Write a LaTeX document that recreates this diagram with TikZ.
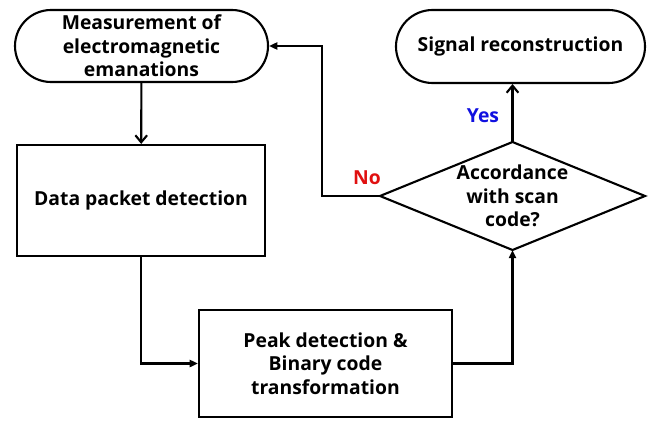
\documentclass[tikz,border=0pt]{standalone}
\usepackage{fontspec}
\setmainfont{Open Sans}
\usetikzlibrary{positioning, arrows.meta, shapes.misc}
\definecolor{yescol}{HTML}{1010E0}
\definecolor{nocol}{HTML}{E01010}

\begin{document}
\begin{tikzpicture}[
    x=0.03cm, y=-0.03cm,
    >={Triangle[length=7pt,width=6pt]},
    line width=1.8pt,
    font=\bfseries\fontsize{16.5}{20}\selectfont,
    terminal/.style={
        draw,
        rounded rectangle,
        align=center,
        inner sep=0pt
    },
    process/.style={
        draw,
        rectangle,
        align=center,
        inner sep=0pt
    },
    openarrow/.style={-{Straight Barb[length=6pt,width=10pt]}},
    fillarrow/.style={->}
]

\useasboundingbox (0,0) rectangle (656,422);

\node[terminal, minimum width=7.59cm, minimum height=2.16cm] (M) at (141.5,46) {Measurement of\\electromagnetic\\emanations};
\node[process, minimum width=7.44cm, minimum height=3.33cm] (D) at (141,200.5) {Data packet detection};
\node[process, minimum width=7.59cm, minimum height=3.21cm] (P) at (325.5,363.5) {Peak detection \&\\Binary code\\transformation};
\node[terminal, minimum width=7.47cm, minimum height=2.19cm] (S) at (520.5,46.5) {Signal reconstruction};

% decision diamond
\node[align=center, inner sep=0pt] (A) at (512.5,196) {Accordance\\with scan\\code?};
\coordinate (An) at (512.5,142);
\coordinate (Ae) at (645,196);
\coordinate (As) at (512.5,250);
\coordinate (Aw) at (380,196);
\draw[line join=miter] (An) -- (Ae) -- (As) -- (Aw) -- cycle;

\coordinate (back) at (322,196);

\draw[openarrow] (M) -- (D);
\draw[fillarrow] (D.south) |- (P.west);
\draw[fillarrow] (P.east) -| (As);
\draw[openarrow] (An) -- (An |- S.south);
\draw[fillarrow] (Aw) -- (back) |- (M.east);

\node[text=yescol] (yes) at (483,116) {Yes};
\node[text=nocol] (no) at (367,178) {No};

\end{tikzpicture}
\end{document}
